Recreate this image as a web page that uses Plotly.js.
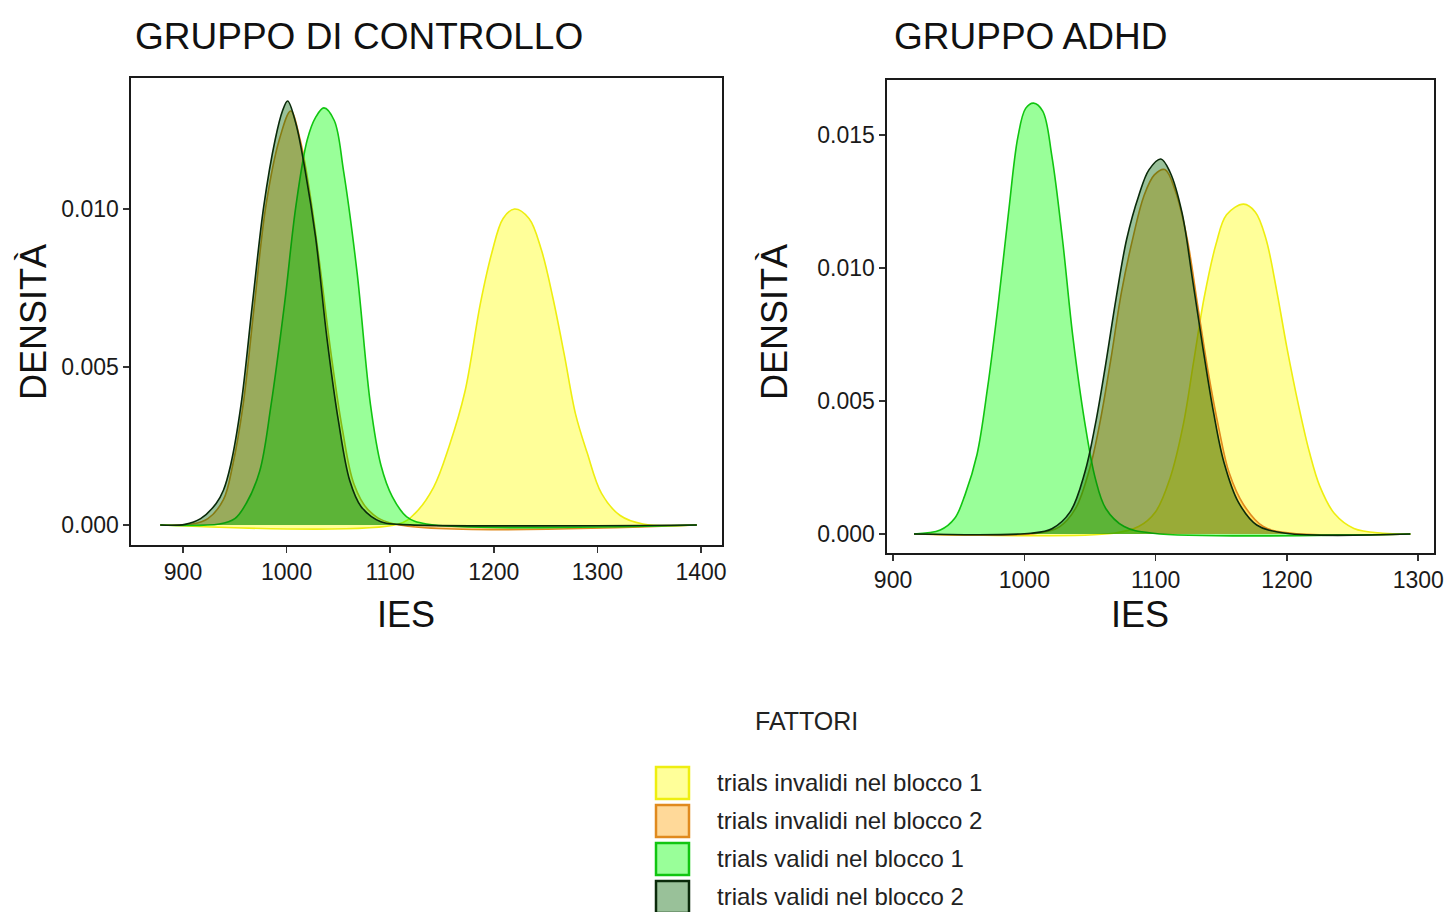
<!DOCTYPE html>
<html>
<head>
<meta charset="utf-8">
<script src="https://cdn.plot.ly/plotly-3.0.1.min.js"></script>
<style>html,body{margin:0;padding:0;background:#fff;}#chart{width:1449px;height:912px;}</style>
</head>
<body>
<div id="chart"></div>
<script>
// ---------------- DATA ----------------
const panelTitles = ["GRUPPO DI CONTROLLO", "GRUPPO ADHD"];
const seriesNames = ["trials invalidi nel blocco 1", "trials invalidi nel blocco 2", "trials validi nel blocco 1", "trials validi nel blocco 2"];
const legendTitle = "FATTORI";
const xAxisLabel = "IES";
const yAxisLabel = "DENSITÀ";

// Gruppo di controllo
const ctrlInv1X = [878, 1108, 1124, 1142, 1157, 1172, 1187, 1198, 1209, 1220, 1234, 1246, 1257, 1268, 1279, 1290, 1304, 1322, 1344, 1396];
const ctrlInv1Y = [0, 0.00003, 0.00037, 0.0012, 0.0025, 0.0042, 0.0070, 0.0086, 0.0097, 0.0100, 0.0097, 0.0087, 0.0072, 0.0054, 0.0035, 0.0023, 0.0010, 0.0003, 0.00003, 0];
const ctrlInv2X = [878, 909, 924, 939, 948, 958, 969, 980, 993, 1004, 1013, 1022, 1031, 1043, 1054, 1065, 1079, 1102, 1396];
const ctrlInv2Y = [0, 0.00003, 0.0002, 0.0008, 0.0019, 0.0038, 0.0070, 0.0101, 0.0122, 0.0131, 0.0122, 0.0106, 0.0085, 0.0054, 0.0030, 0.0013, 0.00047, 0.00005, 0];
const ctrlVal1X = [878, 935, 950, 961, 974, 985, 998, 1009, 1020, 1028, 1036, 1046, 1055, 1068, 1081, 1091, 1102, 1116, 1135, 1396];
const ctrlVal1Y = [0, 0.00003, 0.0002, 0.00068, 0.0017, 0.0038, 0.0070, 0.0101, 0.0122, 0.0129, 0.0132, 0.0128, 0.0112, 0.0080, 0.0038, 0.0019, 0.0009, 0.00026, 0.00003, 0];
const ctrlVal2X = [878, 902, 917, 932, 939, 946, 956, 967, 978, 989, 996, 1001, 1009, 1018, 1028, 1039, 1050, 1061, 1072, 1091, 1109, 1396];
const ctrlVal2Y = [0, 0.00002, 0.0002, 0.00068, 0.0011, 0.0019, 0.0038, 0.0070, 0.0101, 0.0122, 0.0131, 0.01342, 0.0127, 0.0112, 0.0091, 0.0059, 0.0033, 0.0014, 0.00058, 0.0001, 0.00002, 0];

// Gruppo ADHD
const adhdInv1X = [916, 1068, 1087, 1100, 1111, 1121, 1129, 1137, 1146, 1154, 1167, 1176, 1184, 1192, 1200, 1209, 1217, 1225, 1236, 1251, 1273, 1294];
const adhdInv1Y = [0, 0.00003, 0.00028, 0.00084, 0.0021, 0.0041, 0.0065, 0.0089, 0.0109, 0.0120, 0.0124, 0.0121, 0.0111, 0.0092, 0.0070, 0.0048, 0.0031, 0.0018, 0.00078, 0.00021, 0.00003, 0];
const adhdInv2X = [916, 1010, 1027, 1039, 1050, 1058, 1066, 1074, 1083, 1091, 1099, 1107, 1115, 1124, 1132, 1140, 1148, 1156, 1167, 1182, 1204, 1294];
const adhdInv2Y = [0, 0.00003, 0.00028, 0.00096, 0.0025, 0.0043, 0.0066, 0.0091, 0.0112, 0.0127, 0.0135, 0.0137, 0.0129, 0.0111, 0.0086, 0.0061, 0.0040, 0.0023, 0.0011, 0.00028, 0.00003, 0];
const adhdVal1X = [916, 936, 947, 955, 964, 972, 980, 988, 995, 1001, 1007, 1014, 1021, 1029, 1037, 1046, 1054, 1062, 1076, 1098, 1294];
const adhdVal1Y = [0, 0.00015, 0.00059, 0.0015, 0.0030, 0.0055, 0.0086, 0.0121, 0.0149, 0.0160, 0.0162, 0.0159, 0.0142, 0.0111, 0.0074, 0.0042, 0.0021, 0.00096, 0.00028, 0.00003, 0];
const adhdVal2X = [916, 1005, 1021, 1035, 1046, 1054, 1062, 1070, 1078, 1087, 1095, 1104, 1111, 1120, 1128, 1136, 1144, 1152, 1163, 1177, 1199, 1294];
const adhdVal2Y = [0, 0.00003, 0.0002, 0.00084, 0.0023, 0.0041, 0.0064, 0.0089, 0.0111, 0.0127, 0.0137, 0.0141, 0.0136, 0.0121, 0.0096, 0.0070, 0.0046, 0.0027, 0.0012, 0.00034, 0.00003, 0];

const xTicksCtrl = [900, 1000, 1100, 1200, 1300, 1400];
const yTicksCtrl = [0, 0.005, 0.010];
const xTicksAdhd = [900, 1000, 1100, 1200, 1300];
const yTicksAdhd = [0, 0.005, 0.010, 0.015];

// ---------------- STYLE ----------------
const W = 1449, H = 912;
const FONT = "Liberation Sans, Arial, Helvetica, sans-serif";
const fills = ["rgba(255,255,0,0.4)", "rgba(255,165,0,0.4)", "rgba(0,255,0,0.4)", "rgba(0,100,0,0.4)"];
const lines = ["#eeee10", "#e08a1e", "#11c511", "#0a2a0a"];
const boxFills = ["#ffff99", "#ffd999", "#99ff99", "#99c199"];

const px = x => x / W;
const py = y => 1 - y / H;

function curve(x, y, i, xa, ya) {
  return {
    x: x, y: y, type: "scatter", mode: "lines", fill: "tozeroy",
    fillcolor: fills[i], line: {color: lines[i], width: 1.6, shape: "spline", smoothing: 1},
    xaxis: xa, yaxis: ya, showlegend: false, hoverinfo: "x+y", name: seriesNames[i]
  };
}

const data = [
  curve(ctrlInv1X, ctrlInv1Y, 0, "x", "y"),
  curve(ctrlInv2X, ctrlInv2Y, 1, "x", "y"),
  curve(ctrlVal1X, ctrlVal1Y, 2, "x", "y"),
  curve(ctrlVal2X, ctrlVal2Y, 3, "x", "y"),
  curve(adhdInv1X, adhdInv1Y, 0, "x2", "y2"),
  curve(adhdInv2X, adhdInv2Y, 1, "x2", "y2"),
  curve(adhdVal1X, adhdVal1Y, 2, "x2", "y2"),
  curve(adhdVal2X, adhdVal2Y, 3, "x2", "y2")
];

function axisBase() {
  return {
    showgrid: false, zeroline: false, showline: true, mirror: true,
    linecolor: "#1a1a1a", linewidth: 1.6, ticks: "outside", ticklen: 6, tickwidth: 1.5,
    tickcolor: "#333", tickfont: {family: FONT, size: 23, color: "#1a1a1a"}, fixedrange: true
  };
}

const layout = {
  width: W, height: H,
  margin: {l: 0, r: 0, t: 0, b: 0},
  paper_bgcolor: "#fff", plot_bgcolor: "#fff",
  showlegend: false,
  xaxis: Object.assign(axisBase(), {domain: [px(131), px(722)], range: [849.8, 1420.3], tickvals: xTicksCtrl, anchor: "y"}),
  yaxis: Object.assign(axisBase(), {domain: [py(545), py(78)], range: [-0.000633, 0.014146], tickvals: yTicksCtrl, tickformat: ".3f", anchor: "x"}),
  xaxis2: Object.assign(axisBase(), {domain: [px(887), px(1434)], range: [895.4, 1312.0], tickvals: xTicksAdhd, anchor: "y2"}),
  yaxis2: Object.assign(axisBase(), {domain: [py(553), py(80)], range: [-0.000714, 0.017068], tickvals: yTicksAdhd, tickformat: ".3f", anchor: "x2"}),
  annotations: [],
  shapes: []
};

const ann = layout.annotations;
function txt(text, x, y, size, opts) {
  ann.push(Object.assign({text: text, x: px(x), y: py(y), xref: "paper", yref: "paper", showarrow: false,
    font: {family: FONT, size: size, color: "#111"}, xanchor: "center", yanchor: "middle"}, opts || {}));
}
// panel titles
txt(panelTitles[0], 133, 36, 37, {xanchor: "left"});
txt(panelTitles[1], 892, 36, 37, {xanchor: "left"});
// axis titles
txt(xAxisLabel, 406, 614, 36);
txt(xAxisLabel, 1140, 614, 36);
txt(yAxisLabel, 33, 322, 36, {textangle: -90});
txt(yAxisLabel, 774, 322, 36, {textangle: -90});
// legend
txt(legendTitle, 806, 721, 25, {font: {family: FONT, size: 25, color: "#222"}});
const rowY = [783, 821, 859, 897];
seriesNames.forEach((name, i) => {
  layout.shapes.push({type: "rect", xref: "paper", yref: "paper",
    x0: px(656), x1: px(689), y0: py(rowY[i] + 16), y1: py(rowY[i] - 16),
    fillcolor: boxFills[i], line: {color: lines[i], width: 2.5}});
  txt(name, 715, rowY[i] - 1, 24, {xanchor: "left", font: {family: FONT, size: 24, color: "#222"}});
});

Plotly.newPlot("chart", data, layout, {displayModeBar: false, staticPlot: true});
</script>
</body>
</html>
